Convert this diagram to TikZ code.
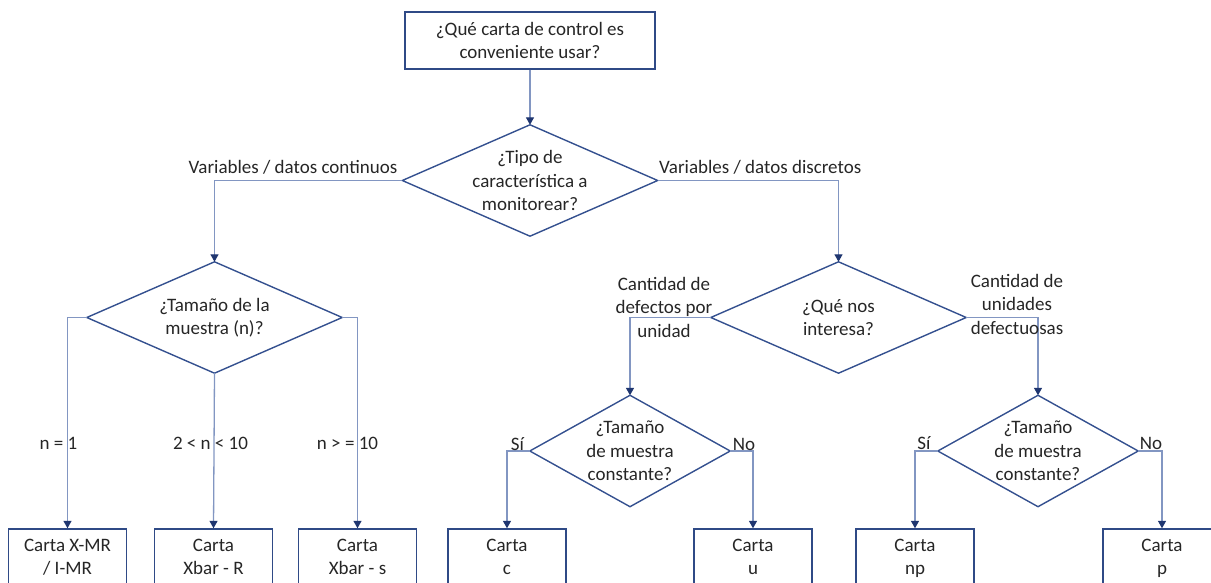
\documentclass[tikz,border=0pt]{standalone}
\usepackage{fontspec}
\setmainfont{Carlito}
\usetikzlibrary{arrows.meta}

\definecolor{boxline}{HTML}{2F4A86}
\definecolor{diamline}{HTML}{34508F}
\definecolor{connline}{HTML}{8296C2}
\definecolor{tipcol}{HTML}{1F3670}
\definecolor{txt}{HTML}{262626}

\begin{document}
\begin{tikzpicture}[x=1pt,y=-1pt,
  every node/.style={font=\fontsize{19}{23.5}\selectfont, text=txt, align=center, inner sep=0pt},
  chartbox/.style={draw=boxline, line width=1.4pt, minimum width=118pt, minimum height=63pt,
    execute at begin node=\strut, execute at end node=\strut},
  questionbox/.style={draw=boxline, line width=1.4pt, minimum width=250pt, minimum height=57pt},
  decision/.style={minimum width=#1, minimum height=111pt},
  decision/.default=255pt,
  diamondedge/.style={draw=diamline, line width=1.4pt, line join=miter},
  link/.style={draw=connline, line width=1.3pt,
    -{Triangle[width=8pt,length=7.5pt,color=tipcol]}},
  branch/.style={font=\fontsize{19}{23.5}\selectfont}
]
\clip (0,0) rectangle (1211,583);

% question box and decisions
\node[questionbox] (start) at (530,40.5) {¿Qué carta de control es\\conveniente usar?};
\node[decision] (tipo) at (530,180.5) {¿Tipo de\\característica a\\monitorear?};
\node[decision] (tam) at (214.5,317.5) {¿Tamaño de la\\muestra (n)?};
\node[decision] (interes) at (838.5,317.5) {¿Qué nos\\interesa?};
\node[decision=200pt] (cteA) at (630,451) {¿Tamaño\\de muestra\\constante?};
\node[decision=200pt] (cteB) at (1038,451) {¿Tamaño\\de muestra\\constante?};

\foreach \d in {tipo,tam,interes,cteA,cteB}
  \draw[diamondedge] (\d.north) -- (\d.east) -- (\d.south) -- (\d.west) -- cycle;

% resulting charts
\node[chartbox] (xmr) at (67.5,560.5) {Carta X-MR\\/ I-MR};
\node[chartbox] (xr)  at (213.5,560.5) {Carta\\Xbar - R};
\node[chartbox] (xs)  at (357.5,560.5) {Carta\\Xbar - s};
\node[chartbox] (cc)  at (507,560.5) {Carta\\c};
\node[chartbox] (cu)  at (753,560.5) {Carta\\u};
\node[chartbox] (cnp) at (915,560.5) {Carta\\np};
\node[chartbox] (cp)  at (1162,560.5) {Carta\\p};

% connectors
\draw[link] (start.south) -- (tipo.north);
\draw[link] (tipo.west) -| (tam.north);
\draw[link] (tipo.east) -| (interes.north);
\draw[link] (tam.west) -| (xmr.north);
\draw[link] (tam.south) -- (xr.north);
\draw[link] (tam.east) -| (xs.north);
\draw[link] (interes.west) -| (cteA.north);
\draw[link] (interes.east) -| (cteB.north);
\draw[link] (cteA.west) -| (cc.north);
\draw[link] (cteA.east) -| (cu.north);
\draw[link] (cteB.west) -| (cnp.north);
\draw[link] (cteB.east) -| (cp.north);

% branch labels
\node[branch] (lcont) at (293,167) {Variables / datos continuos};
\node[branch, anchor=west] (ldisc) at (659,167) {Variables / datos discretos};
\node[branch] (ln1) at (58.5,443) {n = 1};
\node[branch] (ln2) at (210.5,443) {2 < n < 10};
\node[branch] (ln3) at (347.5,443) {n > = 10};
\node[branch] (ldef) at (664,307) {Cantidad de\\defectos por\\unidad};
\node[branch] (luni) at (1017,304) {Cantidad de\\unidades\\defectuosas};
\node[branch] (lsiA) at (517.5,444) {Sí};
\node[branch] (lnoA) at (744,444) {No};
\node[branch] (lsiB) at (924,443) {Sí};
\node[branch] (lnoB) at (1151,443) {No};
\end{tikzpicture}
\end{document}
